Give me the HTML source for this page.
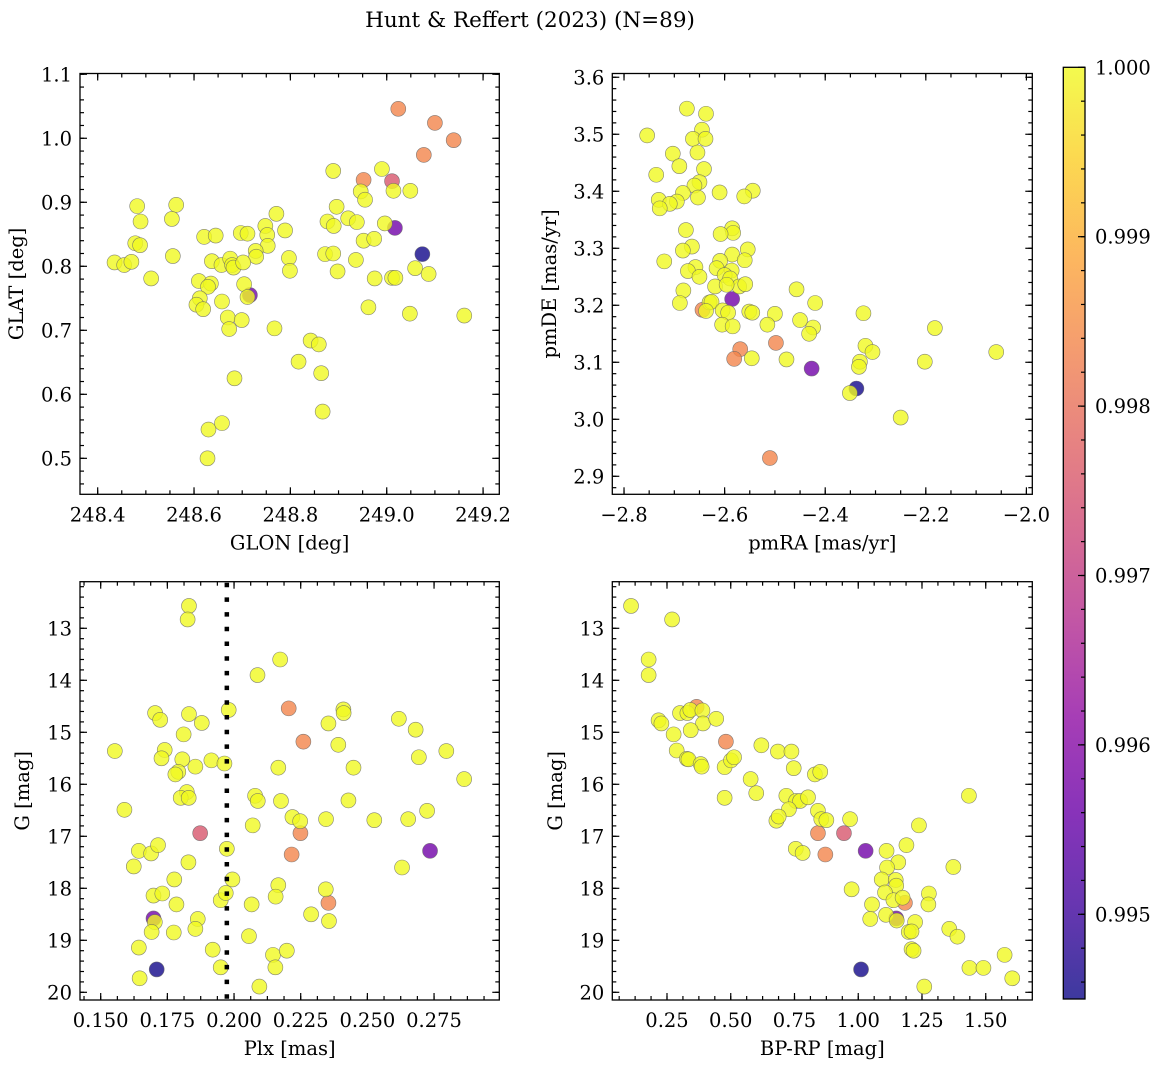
<!DOCTYPE html>
<html><head><meta charset="utf-8"><style>
html,body{margin:0;padding:0;background:#fff;}
svg text{font-family:"DejaVu Serif","Liberation Serif",serif;fill:#000;}
</style></head><body>
<svg id="fig" width="1161" height="1067" viewBox="0 0 1161 1067" xmlns="http://www.w3.org/2000/svg">
<defs>
<linearGradient id="plasma" x1="0" y1="1" x2="0" y2="0">
<stop offset="0" stop-color="#0d0887"/><stop offset="0.1" stop-color="#41049d"/><stop offset="0.2" stop-color="#6a00a8"/><stop offset="0.3" stop-color="#8f0da4"/><stop offset="0.4" stop-color="#b12a90"/><stop offset="0.5" stop-color="#cc4778"/><stop offset="0.6" stop-color="#e16462"/><stop offset="0.7" stop-color="#f2844b"/><stop offset="0.8" stop-color="#fca636"/><stop offset="0.9" stop-color="#fcce25"/><stop offset="1" stop-color="#f0f921"/>
</linearGradient>
</defs>
<text x="530" y="27" font-size="21.5" text-anchor="middle">Hunt &amp; Reffert (2023) (N=89)</text>
</svg>
<script>
// ---- data ----
const glon = [249.024,249.100,249.139,249.077,248.952,249.011,249.017,248.716,249.074,
248.889,248.990,249.014,249.049,248.946,248.955,248.482,248.563,248.896,248.771,248.489,248.554,248.877,248.920,248.938,248.996,248.890,248.789,248.697,248.711,248.748,248.752,248.621,248.645,248.753,248.728,248.729,248.952,248.974,248.478,248.488,248.556,248.872,248.889,248.936,248.435,248.455,248.470,248.637,248.657,248.675,248.679,248.682,248.702,248.797,248.799,248.898,249.059,249.087,248.511,248.610,248.635,248.629,248.975,249.011,249.018,248.704,248.711,248.612,248.605,248.619,248.658,248.670,248.699,248.673,248.767,248.962,249.048,249.161,248.842,248.859,248.817,248.864,248.684,248.867,248.630,248.658,248.628];
const glat = [1.046,1.024,0.997,0.974,0.935,0.933,0.860,0.755,0.819,
0.949,0.952,0.918,0.918,0.917,0.904,0.894,0.896,0.893,0.882,0.870,0.874,0.870,0.875,0.869,0.867,0.863,0.856,0.852,0.851,0.863,0.849,0.846,0.848,0.832,0.824,0.815,0.840,0.843,0.836,0.833,0.816,0.819,0.820,0.810,0.806,0.802,0.807,0.808,0.802,0.812,0.802,0.798,0.806,0.813,0.793,0.792,0.797,0.788,0.781,0.777,0.773,0.768,0.781,0.782,0.782,0.772,0.752,0.750,0.740,0.733,0.745,0.720,0.716,0.702,0.703,0.736,0.726,0.723,0.684,0.678,0.651,0.633,0.625,0.573,0.545,0.555,0.500];
const pmra = [-2.644,-2.569,-2.581,-2.498,-2.510,-2.585,-2.427,-2.338,
-2.675,-2.637,-2.754,-2.645,-2.663,-2.638,-2.703,-2.654,-2.690,-2.641,-2.736,-2.650,-2.660,-2.610,-2.544,-2.561,-2.683,-2.731,-2.695,-2.709,-2.729,-2.653,-2.677,-2.585,-2.583,-2.608,-2.554,-2.665,-2.683,-2.585,-2.720,-2.609,-2.560,-2.658,-2.616,-2.673,-2.650,-2.586,-2.600,-2.619,-2.589,-2.571,-2.559,-2.596,-2.682,-2.457,-2.689,-2.630,-2.626,-2.420,-2.637,-2.604,-2.593,-2.551,-2.545,-2.500,-2.324,-2.605,-2.584,-2.515,-2.450,-2.424,-2.432,-2.182,-2.320,-2.306,-2.477,-2.546,-2.331,-2.333,-2.202,-2.060,-2.351,-2.250];
const pmde = [3.192,3.123,3.106,3.134,2.932,3.211,3.089,3.054,
3.545,3.536,3.498,3.508,3.492,3.492,3.466,3.468,3.444,3.439,3.429,3.416,3.410,3.398,3.401,3.391,3.397,3.385,3.382,3.378,3.370,3.389,3.332,3.335,3.327,3.325,3.298,3.303,3.296,3.289,3.277,3.278,3.279,3.267,3.265,3.260,3.250,3.261,3.253,3.233,3.247,3.233,3.237,3.236,3.226,3.228,3.204,3.205,3.206,3.204,3.190,3.191,3.187,3.189,3.187,3.185,3.186,3.166,3.163,3.166,3.174,3.161,3.150,3.160,3.129,3.118,3.105,3.107,3.101,3.092,3.101,3.118,3.046,3.003];
const plx = [0.2205,0.226,0.2249,0.2216,0.2354,0.1873,0.2735,0.1698,0.171,
0.1831,0.1826,0.2173,0.2088,0.198,0.1704,0.1723,0.1831,0.1879,0.1811,0.1553,0.174,0.1728,0.1806,0.1855,0.1915,0.1964,0.1791,0.178,0.1823,0.180,0.183,0.241,0.2411,0.2354,0.2391,0.2618,0.2681,0.2796,0.2693,0.2863,0.2448,0.2166,0.2079,0.2089,0.2176,0.2429,0.1589,0.2219,0.2248,0.2345,0.2526,0.2653,0.2724,0.207,0.1643,0.1689,0.1715,0.1829,0.1624,0.1973,0.263,0.1776,0.1994,0.2166,0.2344,0.2156,0.1698,0.1731,0.1784,0.195,0.1969,0.2066,0.2289,0.2356,0.1864,0.1855,0.1703,0.1691,0.1774,0.2056,0.1643,0.192,0.2146,0.2198,0.2155,0.195,0.1646,0.2095];
const gmagA = [14.54,15.18,16.94,17.35,18.28,16.94,17.28,18.58,19.56,
12.57,12.83,13.60,13.90,14.57,14.63,14.76,14.65,14.82,15.04,15.36,15.34,15.50,15.52,15.66,15.54,15.60,15.76,15.81,16.15,16.26,16.26,14.56,14.63,14.83,15.24,14.74,14.95,15.36,15.48,15.90,15.68,15.68,16.22,16.32,16.32,16.31,16.49,16.63,16.71,16.67,16.69,16.67,16.51,16.79,17.28,17.33,17.17,17.50,17.58,17.24,17.60,17.83,17.83,17.94,18.02,18.16,18.14,18.10,18.31,18.23,18.09,18.31,18.50,18.63,18.59,18.78,18.65,18.84,18.85,18.92,19.14,19.18,19.28,19.20,19.52,19.52,19.73,19.89];
const bprp = [0.366,0.481,0.842,0.871,1.183,0.944,1.029,1.149,1.011,
0.109,0.270,0.178,0.178,0.217,0.228,0.301,0.330,0.3415,0.389,0.391,0.443,0.343,0.276,0.288,0.328,0.334,0.382,0.386,0.476,0.501,0.513,0.620,0.685,0.738,0.747,0.830,0.851,0.578,0.600,0.476,0.718,0.756,0.772,0.803,0.728,0.842,0.679,0.688,0.855,0.875,0.968,1.434,1.238,0.755,0.782,1.111,1.189,1.157,1.113,1.373,1.092,1.147,1.149,0.974,1.105,1.138,1.174,1.277,1.275,1.054,1.047,1.109,1.151,1.223,1.198,1.209,1.357,1.389,1.209,1.217,1.574,1.436,1.491,1.604,1.259];
const gmagB = [14.51,15.18,16.94,17.35,18.28,16.94,17.28,18.58,19.56,
12.57,12.83,13.60,13.90,14.77,14.83,14.63,14.63,14.57,14.58,14.83,14.74,14.96,15.04,15.35,15.51,15.52,15.61,15.66,15.67,15.54,15.48,15.25,15.37,15.37,15.69,15.81,15.76,15.90,16.17,16.26,16.22,16.32,16.32,16.25,16.48,16.51,16.70,16.62,16.67,16.69,16.67,16.22,16.79,17.24,17.32,17.28,17.17,17.50,17.60,17.59,17.83,17.84,17.95,18.02,18.08,18.23,18.18,18.10,18.31,18.31,18.59,18.51,18.62,18.65,18.84,18.83,18.78,18.93,19.17,19.20,19.28,19.53,19.53,19.73,19.89];
const probColoured = [0.99835,0.99835,0.99835,0.99835,0.99835,0.99753,0.99571,0.99571,0.99455];
const probColouredPm = [0.99835,0.99835,0.99835,0.99835,0.99835,0.99571,0.99571,0.99455];
const plxLine = [0.1973];
const ticks1x = [248.4,248.6,248.8,249.0,249.2];
const ticks1y = [0.5,0.6,0.7,0.8,0.9,1.0,1.1];
const ticks2x = [-2.8,-2.6,-2.4,-2.2,-2.0];
const ticks2y = [2.9,3.0,3.1,3.2,3.3,3.4,3.5,3.6];
const ticks3x = [0.150,0.175,0.200,0.225,0.250,0.275];
const ticksG = [13,14,15,16,17,18,19,20];
const ticks4x = [0.25,0.50,0.75,1.00,1.25,1.50];
const cbarTicks = [0.995,0.996,0.997,0.998,0.999,1.000];

const FS = 19.5;
const NS = "http://www.w3.org/2000/svg";
const svg = document.getElementById('fig');
function mk(tag, attrs, parent){const e=document.createElementNS(NS,tag);for(const k in attrs)e.setAttribute(k,attrs[k]);(parent||svg).appendChild(e);return e;}

const pStops=[[0,[13,8,135]],[0.1,[65,4,157]],[0.2,[106,0,168]],[0.3,[143,13,164]],[0.4,[177,42,144]],[0.5,[204,71,120]],[0.6,[225,100,98]],[0.7,[242,132,75]],[0.8,[252,166,54]],[0.9,[252,206,37]],[1,[240,249,33]]];
const PMIN=0.99450, PMAX=1.0;
function plasma(p){let t=(p-PMIN)/(PMAX-PMIN);t=Math.max(0,Math.min(1,t));
for(let i=0;i<pStops.length-1;i++){const a=pStops[i],b=pStops[i+1];if(t<=b[0]){const f=(t-a[0])/(b[0]-a[0]);const c=a[1].map((v,j)=>Math.round(v+(b[1][j]-v)*f));return `rgb(${c[0]},${c[1]},${c[2]})`;}}return 'rgb(240,249,33)';}

function panel(cfg){
  const g=mk('g',{});
  
  
  const {x0,x1,y0,y1,dx0,dx1,dy0,dy1}=cfg;
  const sx=v=>x0+(v-dx0)/(dx1-dx0)*(x1-x0);
  const sy=v=>y1-(v-dy0)/(dy1-dy0)*(y1-y0);
  const tickG=mk('g',{stroke:'#000','stroke-width':1.2},g);
  function ticksX(start,step,len){for(let v=start;v<=dx1+1e-9;v+=step){if(v<dx0-1e-9)continue;const X=sx(v);mk('line',{x1:X,x2:X,y1:y1,y2:y1-len},tickG);mk('line',{x1:X,x2:X,y1:y0,y2:y0+len},tickG);}}
  function ticksY(start,step,len){for(let v=start;v<=dy1+1e-9;v+=step){if(v<dy0-1e-9)continue;const Y=sy(v);mk('line',{x1:x0,x2:x0+len,y1:Y,y2:Y},tickG);mk('line',{x1:x1,x2:x1-len,y1:Y,y2:Y},tickG);}}
  ticksX(cfg.xMinorStart,cfg.xMinor,4);ticksX(cfg.xticks[0],cfg.xticks[1]-cfg.xticks[0],7);
  ticksY(cfg.yMinorStart,cfg.yMinor,4);ticksY(cfg.yticks[0],cfg.yticks[1]-cfg.yticks[0],7);
  cfg.xticks.forEach(v=>{const t=mk('text',{x:sx(v),y:y1+27,'font-size':FS,'text-anchor':'middle'},g);t.textContent=v.toFixed(cfg.xdec).replace('-','\u2212');
    
    });
  cfg.yticks.forEach(v=>{if(v<dy0||v>dy1)return;const t=mk('text',{x:x0-8,y:sy(v)+7,'font-size':FS,'text-anchor':'end'},g);t.textContent=v.toFixed(cfg.ydec);
    
    });
  const xl=mk('text',{x:(x0+x1)/2,y:y1+55,'font-size':FS,'text-anchor':'middle'},g);xl.textContent=cfg.xlabel;
  
  
  const yc=(y0+y1)/2;const yl=mk('text',{x:0,y:0,'font-size':FS,'text-anchor':'middle',transform:`translate(${cfg.ylx},${yc}) rotate(-90)`},g);yl.textContent=cfg.ylabel;
  
  
  const pg=mk('g',{},g);
  
  
  const order=cfg.xs.map((_,i)=>i).sort((a,b)=>cfg.ps(a)-cfg.ps(b));
  order.forEach(i=>{const c=mk('circle',{cx:sx(cfg.xs[i]),cy:sy(cfg.ys[i]),r:7.5,fill:plasma(cfg.ps(i)),'fill-opacity':0.8,stroke:'#666','stroke-opacity':0.8,'stroke-width':0.6},pg);
    
    });
  if(cfg.vline){cfg.vline.forEach(v=>{const l=mk('line',{x1:sx(v),x2:sx(v),y1:y0+1,y2:y1,stroke:'#000','stroke-width':4.5,'stroke-dasharray':'4.5 10.2'},g);
    
    });}
  const fr=mk('rect',{x:x0,y:y0,width:x1-x0,height:y1-y0,fill:'none',stroke:'#000','stroke-width':1.3},g);
  
  
}
function probOf(arr){return i=>(i<arr.length?arr[i]:1.0);}
panel({name:'panel-glon-glat',x0:80,x1:499.3,y0:73.5,y1:494.3,dx0:248.3633,dx1:249.2337,dy0:0.4438,dy1:1.1012,
 xticks:ticks1x,yticks:ticks1y,xMinor:0.05,xMinorStart:248.4,yMinor:0.02,yMinorStart:0.46,xdec:1,ydec:1,
 xlabel:'GLON [deg]',ylabel:'GLAT [deg]',ylx:23,xs:glon,ys:glat,ps:probOf(probColoured)});
panel({name:'panel-pmra-pmde',x0:612.3,x1:1032.3,y0:73.5,y1:494.3,dx0:-2.8233,dx1:-1.9883,dy0:2.8684,dy1:3.6066,
 xticks:ticks2x,yticks:ticks2y,xMinor:0.05,xMinorStart:-2.8,yMinor:0.02,yMinorStart:2.88,xdec:1,ydec:1,
 xlabel:'pmRA [mas/yr]',ylabel:'pmDE [mas/yr]',ylx:556,xs:pmra,ys:pmde,ps:probOf(probColouredPm)});
function panelG(o){
  const ys=o.g.map(v=>-v);
  const yt=ticksG.map(v=>-v).sort((a,b)=>a-b);
  const cfg=Object.assign({},o,{ys:ys,yticks:yt,yMinor:0.2,yMinorStart:-20.0,dy0:-20.148,dy1:-12.104,ydec:0,y0:581.7,y1:1000});
  panel(cfg);
}
panelG({name:'panel-plx-g',x0:80,x1:499.3,dx0:0.14224,dx1:0.29947,xticks:ticks3x,xMinor:0.00625,xMinorStart:0.14375,xdec:3,
 xlabel:'Plx [mas]',ylabel:'G [mag]',ylx:29,xs:plx,g:gmagA,ps:probOf(probColoured),vline:plxLine});
panelG({name:'panel-bprp-g',x0:612.3,x1:1032.3,dx0:0.0355,dx1:1.6826,xticks:ticks4x,xMinor:0.0625,xMinorStart:0.0625,xdec:2,
 xlabel:'BP-RP [mag]',ylabel:'G [mag]',ylx:562,xs:bprp,g:gmagB,ps:probOf(probColoured)});
document.querySelectorAll('text').forEach(t=>{if(/^[-\u2212]\d+$/.test(t.textContent)&&t.getAttribute('text-anchor')==='end')t.textContent=t.textContent.replace(/^[-\u2212]/,'');});

const cb=mk('g',{});


const cx0=1063.3,cx1=1085,cy0=67.3,cy1=999;
const cby=v=>cy1-(v-PMIN)/(PMAX-PMIN)*(cy1-cy0);
mk('rect',{x:cx0,y:cy0,width:cx1-cx0,height:cy1-cy0,fill:'url(#plasma)','fill-opacity':0.8},cb);
for(let v=0.9946;v<=1.00001;v+=0.0002){const Y=cby(v);mk('line',{x1:cx1,x2:cx1-4,y1:Y,y2:Y,stroke:'#000','stroke-width':1.2},cb);}
cbarTicks.forEach(v=>{const Y=cby(v);mk('line',{x1:cx1,x2:cx1-7,y1:Y,y2:Y,stroke:'#000','stroke-width':1.2},cb);
 const t=mk('text',{x:cx1+10,y:Y+7,'font-size':FS},cb);t.textContent=v.toFixed(3);
 
 });
mk('rect',{x:cx0,y:cy0,width:cx1-cx0,height:cy1-cy0,fill:'none',stroke:'#000','stroke-width':1.3},cb);
</script>
</body></html>
